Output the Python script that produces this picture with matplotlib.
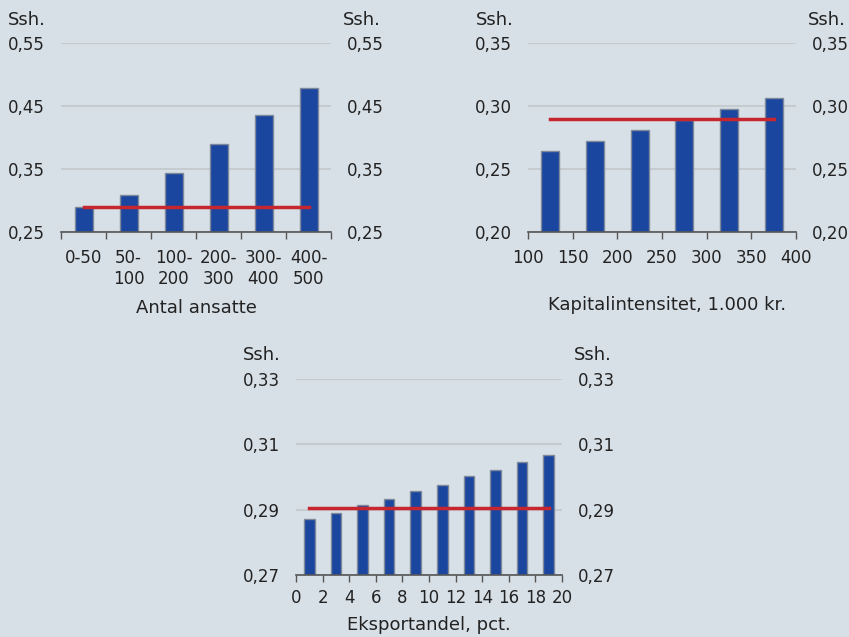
import numpy as np
import matplotlib
matplotlib.use("Agg")
import matplotlib.pyplot as plt

# --- data ---------------------------------------------------------------
size_labels = ["0-50", "50-\n100", "100-\n200", "200-\n300", "300-\n400", "400-\n500"]
size_values = [0.290, 0.308, 0.343, 0.389, 0.435, 0.478]
size_avg = 0.290

cap_x = [125, 175, 225, 275, 325, 375]
cap_values = [0.2645, 0.272, 0.281, 0.289, 0.2975, 0.306]
cap_avg = 0.290

exp_x = [1, 3, 5, 7, 9, 11, 13, 15, 17, 19]
exp_values = [0.2870, 0.2890, 0.2914, 0.2933, 0.2958, 0.2977, 0.3003, 0.3021, 0.3045, 0.3066]
exp_avg = 0.2905

BG = "#d8e0e7"
BAR = "#1a46a0"
EDGE = "#7d8899"
RED = "#c8262e"
GRID = "#c6cbd0"
AXIS = "#555555"
TXT = "#222222"

W, H = 849, 637
plt.rcParams["font.family"] = "DejaVu Sans"
plt.rcParams["font.size"] = 12

fig = plt.figure(figsize=(W / 100, H / 100), dpi=100, facecolor=BG)


def make_ax(x0, x1, y0, y1):
    # pixel box (top-left origin) -> figure fraction
    return fig.add_axes([x0 / W, (H - y1) / H, (x1 - x0) / W, (y1 - y0) / H])


def style(ax, ylo, yhi, yticks, xpad):
    ax.set_facecolor(BG)
    ax.set_ylim(ylo, yhi)
    ax.set_yticks(yticks)
    ax.set_yticklabels([f"{t:.2f}".replace(".", ",") for t in yticks])
    ax.tick_params(axis="y", left=False, right=False, labelleft=True,
                   labelright=True, pad=8, colors=TXT)
    ax.tick_params(axis="x", direction="out", length=5, width=1,
                   color=AXIS, pad=xpad, labelcolor=TXT)
    for s in ["left", "right", "top"]:
        ax.spines[s].set_visible(False)
    ax.spines["bottom"].set_color(AXIS)
    ax.spines["bottom"].set_linewidth(1.2)
    ax.grid(axis="y", color=GRID, linewidth=1.5)
    ax.set_axisbelow(True)


def ssh(xl, xr, y):
    fig.text(xl / W, 1 - y / H, "Ssh.", ha="left", va="center", color=TXT, fontsize=13)
    fig.text(xr / W, 1 - y / H, "Ssh.", ha="left", va="center", color=TXT, fontsize=13)


# --- panel 1: Antal ansatte ---------------------------------------------
ax1 = make_ax(61, 331, 43, 232)
style(ax1, 0.25, 0.55, [0.25, 0.35, 0.45, 0.55], 3)
pos = np.arange(len(size_values))
ax1.bar(pos, [v - 0.25 for v in size_values], bottom=0.25, width=0.4,
        color=BAR, edgecolor=EDGE, linewidth=1, zorder=2)
ax1.plot([pos[0], pos[-1]], [size_avg, size_avg], color=RED, lw=2.5, zorder=3)
ax1.set_xlim(-0.5, len(size_values) - 0.5)
ax1.set_xticks(np.arange(-0.5, len(size_values), 1.0))
ax1.set_xticklabels([])
ax1.set_xticks(pos, minor=True)
ax1.set_xticklabels(size_labels, minor=True, linespacing=1.25)
ax1.tick_params(axis="x", which="minor", length=0, pad=12, labelcolor=TXT)
ax1.set_xlabel("Antal ansatte", color=TXT, fontsize=13)
ax1.xaxis.set_label_coords(0.5, -0.355)
ssh(8, 343, 20)

# --- panel 2: Kapitalintensitet -----------------------------------------
ax2 = make_ax(528, 796, 43, 232)
style(ax2, 0.20, 0.35, [0.20, 0.25, 0.30, 0.35], 7)
ax2.bar(cap_x, [v - 0.20 for v in cap_values], bottom=0.20, width=20.5,
        color=BAR, edgecolor=EDGE, linewidth=1, zorder=2)
ax2.plot([cap_x[0], cap_x[-1]], [cap_avg, cap_avg], color=RED, lw=2.5, zorder=3)
ax2.set_xlim(100, 400)
ax2.set_xticks(range(100, 401, 50))
ax2.set_xlabel("Kapitalintensitet, 1.000 kr.", color=TXT, fontsize=13)
ax2.xaxis.set_label_coords(0.52, -0.34)
ssh(476, 808, 20)

# --- panel 3: Eksportandel ----------------------------------------------
ax3 = make_ax(296, 562, 379, 575)
style(ax3, 0.27, 0.33, [0.27, 0.29, 0.31, 0.33], 5)
ax3.bar(exp_x, [v - 0.27 for v in exp_values], bottom=0.27, width=0.8,
        color=BAR, edgecolor=EDGE, linewidth=1, zorder=2)
ax3.plot([exp_x[0], exp_x[-1]], [exp_avg, exp_avg], color=RED, lw=2.5, zorder=3)
ax3.set_xlim(0, 20)
ax3.set_xticks(range(0, 21, 2))
ax3.set_xlabel("Eksportandel, pct.", color=TXT, fontsize=13)
ax3.xaxis.set_label_coords(0.5, -0.21)
ssh(243, 574, 355)

fig.savefig("out.png", dpi=100, facecolor=BG)
